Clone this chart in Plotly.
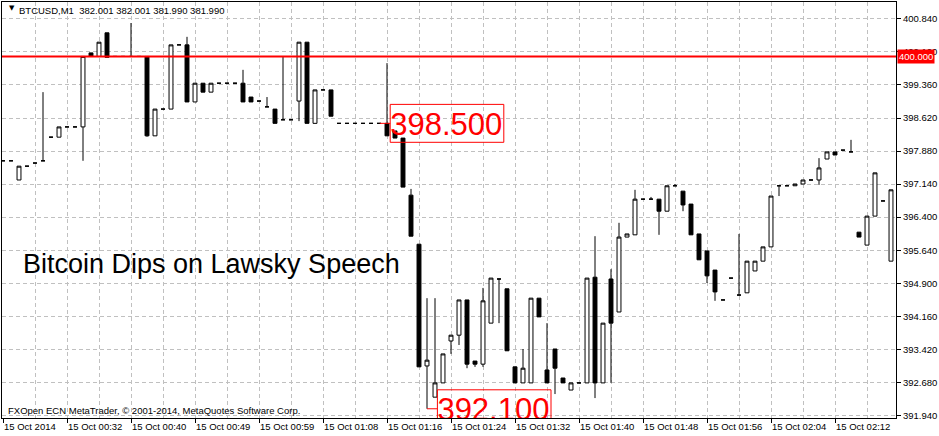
"""BTCUSD M1 candles around the Lawsky speech, MetaTrader style."""

import plotly.graph_objects as go

bar_index = list(range(112))

opens = [
    397.66, 397.66, 397.23, 397.54, 397.61, 397.66, 398.19, 398.19, 398.42, 398.42,
    398.42, 400.08, 400.00, 400.53, 400.00, 400.00, 400.00, 400.00, 400.00, 398.22,
    398.82, 398.82, 400.26, 400.26, 398.98, 399.40, 399.20, 399.40, 399.40, 399.40,
    399.40, 399.09, 399.00, 398.87, 398.82, 398.58, 398.58, 399.00, 400.32, 398.50,
    399.25, 399.25, 398.50, 398.50, 398.50, 398.50, 398.50, 398.50, 398.50, 398.33,
    398.17, 396.89, 395.79, 393.06, 392.36, 392.68, 393.62, 393.75, 394.54, 393.17,
    393.10, 394.02, 395.01, 394.79, 393.04, 392.68, 392.68, 394.58, 392.97, 393.44,
    392.79, 392.52, 392.68, 392.68, 395.05, 392.68, 395.01, 394.27, 395.95, 396.00,
    396.80, 396.80, 396.80, 396.53, 397.10, 396.98, 396.69, 396.02, 395.64, 395.21,
    394.54, 395.03, 394.65, 394.70, 395.19, 395.41, 395.73, 397.10, 397.10, 397.10,
    397.14, 397.23, 397.23, 397.70, 397.86, 397.90, 397.86, 396.06, 395.77, 396.42,
    396.76, 395.41,
]
highs = [
    397.66, 397.66, 397.54, 397.54, 397.61, 399.20, 398.19, 398.42, 398.42, 398.42,
    400.00, 400.08, 400.32, 400.53, 400.00, 400.00, 400.75, 400.00, 400.00, 398.82,
    398.82, 400.26, 400.26, 400.44, 399.40, 399.40, 399.40, 399.40, 399.40, 399.40,
    399.70, 399.09, 399.00, 399.09, 398.82, 400.00, 398.58, 400.32, 400.32, 399.25,
    399.25, 399.25, 398.50, 398.50, 398.50, 398.50, 398.50, 398.50, 399.85, 398.33,
    398.17, 397.03, 395.79, 394.58, 394.58, 393.33, 393.75, 394.54, 394.54, 393.17,
    394.81, 395.03, 395.01, 394.79, 393.04, 393.44, 394.58, 394.58, 394.02, 393.44,
    392.79, 392.68, 392.68, 395.03, 395.97, 394.02, 395.23, 396.27, 396.02, 397.01,
    396.80, 396.85, 396.80, 397.10, 397.14, 396.98, 396.69, 396.02, 395.64, 395.21,
    394.54, 395.03, 396.02, 395.41, 395.41, 395.73, 396.87, 397.10, 397.10, 397.14,
    397.23, 397.23, 397.72, 397.86, 397.86, 397.90, 398.13, 396.06, 396.42, 397.39,
    396.76, 397.01,
]
lows = [
    397.66, 397.66, 397.23, 397.54, 397.61, 397.66, 398.19, 398.19, 398.42, 398.42,
    397.66, 400.00, 400.00, 399.98, 400.00, 400.00, 400.00, 400.00, 398.20, 398.22,
    398.82, 398.82, 400.26, 398.98, 398.98, 399.20, 399.20, 399.40, 399.40, 399.40,
    398.98, 398.98, 399.00, 398.87, 398.50, 398.58, 398.58, 398.55, 398.50, 398.50,
    399.25, 398.66, 398.50, 398.50, 398.50, 398.50, 398.50, 398.50, 398.22, 398.17,
    397.07, 395.97, 393.04, 392.10, 392.36, 392.68, 393.33, 393.53, 393.01, 393.04,
    393.04, 394.02, 394.02, 393.40, 392.68, 392.68, 392.68, 394.16, 392.68, 392.43,
    392.68, 392.52, 392.68, 392.68, 392.34, 392.68, 392.68, 394.27, 395.95, 396.00,
    396.80, 396.80, 396.00, 396.53, 397.10, 396.53, 396.00, 395.44, 394.92, 394.52,
    394.54, 395.03, 394.65, 394.70, 395.19, 395.41, 395.73, 396.87, 397.10, 397.10,
    397.14, 397.23, 397.12, 397.70, 397.79, 397.90, 397.86, 395.95, 395.77, 396.42,
    396.76, 395.41,
]
closes = [
    397.66, 397.66, 397.54, 397.54, 397.61, 397.66, 398.19, 398.42, 398.42, 398.42,
    400.00, 400.00, 400.32, 399.98, 400.00, 400.00, 400.00, 400.00, 398.22, 398.82,
    398.82, 400.26, 400.26, 398.98, 399.40, 399.20, 399.40, 399.40, 399.40, 399.40,
    398.98, 398.98, 399.00, 398.87, 398.50, 398.58, 398.58, 400.32, 398.50, 399.25,
    399.25, 398.66, 398.50, 398.50, 398.50, 398.50, 398.50, 398.50, 398.22, 398.17,
    397.07, 395.97, 393.04, 393.19, 392.68, 393.33, 393.75, 394.54, 393.10, 393.10,
    394.52, 395.03, 395.01, 393.40, 392.68, 393.01, 394.58, 394.16, 392.68, 393.01,
    392.68, 392.68, 392.68, 395.03, 392.68, 394.02, 394.02, 395.95, 396.02, 396.80,
    396.80, 396.80, 396.53, 397.10, 397.10, 396.67, 396.00, 395.44, 395.08, 394.72,
    394.54, 395.03, 394.65, 395.41, 395.41, 395.73, 396.87, 397.10, 397.10, 397.14,
    397.23, 397.23, 397.50, 397.86, 397.79, 397.90, 397.86, 395.95, 396.42, 397.39,
    396.76, 397.01,
]

x_tick_index = [0, 8, 16, 24, 32, 40, 48, 56, 64, 72, 80, 88, 96, 104]
x_tick_text = [
    "15 Oct 2014", "15 Oct 00:32", "15 Oct 00:40", "15 Oct 00:49", "15 Oct 00:59",
    "15 Oct 01:08", "15 Oct 01:16", "15 Oct 01:24", "15 Oct 01:32", "15 Oct 01:40",
    "15 Oct 01:48", "15 Oct 01:56", "15 Oct 02:04", "15 Oct 02:12",
]
y_tick_text = [
    "400.840", "400.100", "399.360", "398.620", "397.880", "397.140", "396.400",
    "395.640", "394.900", "394.160", "393.420", "392.680", "391.940",
]

level_price = 400.0
label_price = [398.5, 392.1]
label_text = ["398.500", "392.100"]

header = "BTCUSD,M1  382.001 382.001 381.990 381.990"
headline = "Bitcoin Dips on Lawsky Speech"
copyright_note = "FXOpen ECN MetaTrader, \u00a9 2001-2014, MetaQuotes Software Corp."

# where the price labels sit: connector start and box left edge, in bars
label_from = [47.1, 53.0]
label_left = [48.4, 54.3]
label_width = 14.2
label_half_height = 0.425
text_drop = 0.08  # digits sit a touch lower than the text box centre

small_font = dict(family="Liberation Sans", size=9.5, color="black")

fig = go.Figure()
fig.add_trace(
    go.Candlestick(
        x=bar_index,
        open=opens,
        high=highs,
        low=lows,
        close=closes,
        increasing=dict(line=dict(color="black", width=1), fillcolor="white"),
        decreasing=dict(line=dict(color="black", width=1), fillcolor="black"),
        whiskerwidth=0,
        showlegend=False,
        hoverinfo="skip",
    )
)
fig.add_trace(
    go.Scatter(
        x=label_left,
        y=[p - text_drop for p in label_price],
        mode="text",
        text=label_text,
        textposition="middle right",
        textfont=dict(family="Liberation Sans", size=31, color="#ff0000"),
        cliponaxis=True,
        showlegend=False,
        hoverinfo="skip",
    )
)

fig.add_hline(y=level_price, line=dict(color="#ff0000", width=2))
for start, left, price in zip(label_from, label_left, label_price):
    fig.add_shape(
        type="rect", xref="x", yref="y",
        x0=left, x1=left + label_width,
        y0=price - label_half_height, y1=price + label_half_height,
        line=dict(color="#ff0000", width=1),
    )
    fig.add_shape(
        type="line", xref="x", yref="y",
        x0=start, x1=left, y0=price, y1=price,
        line=dict(color="#ff0000", width=1),
    )

fig.add_annotation(
    xref="paper", yref="y", x=1, y=level_price, xanchor="left", xshift=1,
    text=f"{level_price:.3f}", showarrow=False, bgcolor="#ff0000",
    font=dict(family="Liberation Sans", size=9.5, color="white"), borderpad=1,
)
fig.add_annotation(
    xref="paper", yref="paper", x=0.0055, y=0.986, xanchor="left", yanchor="middle",
    text="\u25bc", showarrow=False, font=dict(family="DejaVu Sans", size=7, color="black"),
)
fig.add_annotation(
    xref="paper", yref="paper", x=0.0165, y=0.9785, xanchor="left", yanchor="middle",
    text=header, showarrow=False, font=small_font,
)
fig.add_annotation(
    xref="paper", yref="paper", x=0.0215, y=0.37, xanchor="left", yanchor="middle",
    text=headline, showarrow=False,
    font=dict(family="Liberation Sans", size=27, color="black"),
)
fig.add_annotation(
    xref="paper", yref="paper", x=0.0045, y=0.018, xanchor="left", yanchor="middle",
    text=copyright_note, showarrow=False, font=small_font,
)

grid = dict(gridcolor="#c0c0c0", griddash="4px,3px", gridwidth=1)
fig.update_layout(
    width=939,
    height=436,
    margin=dict(l=2, r=43, t=2, b=18),
    paper_bgcolor="white",
    plot_bgcolor="white",
    boxgap=0.3,
    boxgroupgap=0.3,
    xaxis=dict(
        type="linear",
        range=[-0.125, 111.625],
        tickmode="array",
        tickvals=x_tick_index,
        ticktext=x_tick_text,
        ticks="outside",
        ticklen=4,
        tickcolor="black",
        ticklabelposition="outside right",
        tickfont=small_font,
        showline=True,
        linecolor="black",
        linewidth=1,
        mirror=True,
        showgrid=True,
        minor=dict(dtick=4, tick0=0, showgrid=True, **grid),
        rangeslider=dict(visible=False),
        zeroline=False,
        fixedrange=True,
        **grid,
    ),
    yaxis=dict(
        side="right",
        range=[391.893, 401.221],
        tickmode="array",
        tickvals=[float(t) for t in y_tick_text],
        ticktext=y_tick_text,
        ticks="outside",
        ticklen=4,
        tickcolor="black",
        tickfont=small_font,
        showline=True,
        linecolor="black",
        linewidth=1,
        mirror=True,
        showgrid=True,
        zeroline=False,
        fixedrange=True,
        **grid,
    ),
)

# the page gets a default body margin; drop it so the chart sits at the corner
fig.write_html(
    "out.html",
    config={"displayModeBar": False},
    post_script="document.body.style.margin='0';document.body.style.overflow='hidden';",
)
